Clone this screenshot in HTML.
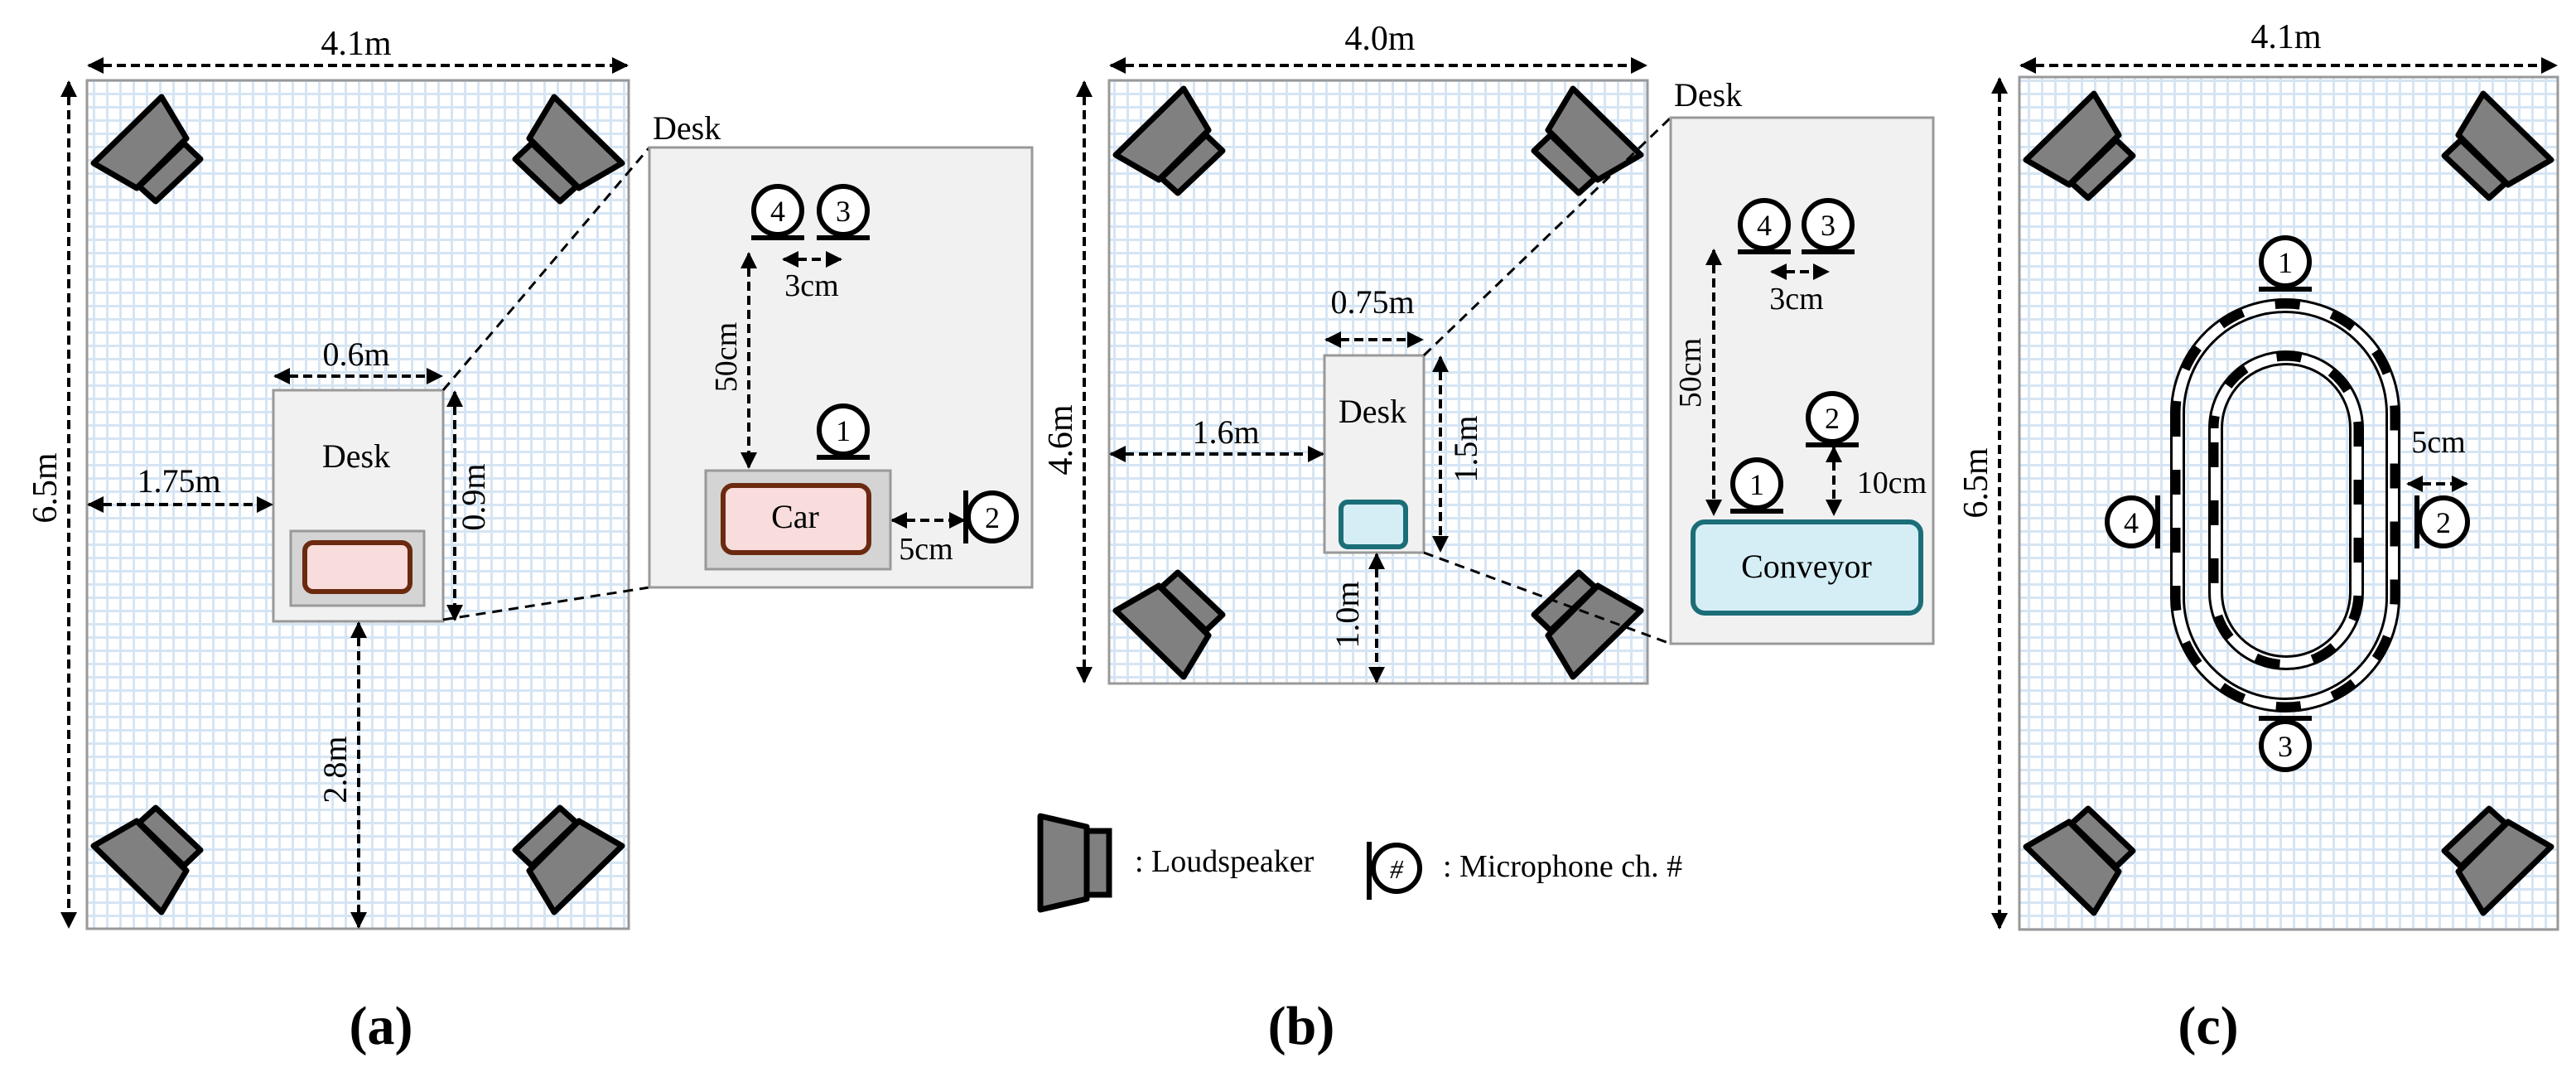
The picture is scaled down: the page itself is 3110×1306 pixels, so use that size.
<!DOCTYPE html>
<html><head><meta charset="utf-8"><style>html,body{margin:0;padding:0;background:#fff}svg{display:block}text{font-family:"Liberation Serif",serif;fill:#000}</style></head>
<body>
<svg width="3110" height="1306" viewBox="0 0 3110 1306" xmlns="http://www.w3.org/2000/svg">
<defs>
<pattern id="g" width="16" height="16" patternUnits="userSpaceOnUse">
<rect width="16" height="16" fill="#fff"/>
<rect x="0" y="0" width="3" height="16" fill="#d6e5f3"/>
<rect x="0" y="0" width="16" height="3" fill="#d6e5f3"/>
</pattern>
<marker id="ah" viewBox="0 0 10 10" refX="9" refY="5" markerWidth="5" markerHeight="5" orient="auto-start-reverse" markerUnits="strokeWidth"><path d="M0,0 L10,5 L0,10 z" fill="#000"/></marker>
<g id="spk">
<polygon points="113,197 195,117 225,167 165,227" fill="#808080" stroke="#000" stroke-width="7" stroke-linejoin="round"/>
<polygon points="222,173 242,192 188,243 168,225" fill="#808080" stroke="#000" stroke-width="7" stroke-linejoin="round"/>
</g>
<g id="mic">
<circle cx="0" cy="0" r="29" fill="#fff" stroke="#000" stroke-width="6"/>
<line x1="-32" y1="33" x2="32" y2="33" stroke="#000" stroke-width="6"/>
</g>
</defs>

<g stroke="#000" stroke-width="4" stroke-dasharray="11 6" fill="none" marker-start="url(#ah)" marker-end="url(#ah)">
<line x1="107" y1="79" x2="757" y2="79"/>
<line x1="83" y1="99" x2="83" y2="1119"/>
<line x1="1341" y1="79" x2="1987" y2="79"/>
<line x1="1309" y1="99" x2="1309" y2="823"/>
<line x1="2440" y1="79" x2="3086" y2="79"/>
<line x1="2414" y1="95" x2="2414" y2="1120"/>
</g>

<!-- Panel a room -->
<rect x="105" y="97" width="654" height="1024" fill="url(#g)" stroke="#999" stroke-width="3"/>
<use href="#spk"/>
<use href="#spk" transform="translate(864,0) scale(-1,1)"/>
<use href="#spk" transform="translate(0,1218) scale(1,-1)"/>
<use href="#spk" transform="translate(864,1218) scale(-1,-1)"/>
<rect x="330" y="471" width="205" height="279" fill="#f1f1f1" stroke="#999" stroke-width="3"/>
<rect x="351" y="641" width="161" height="90" fill="#d4d4d4" stroke="#999" stroke-width="3"/>
<rect x="368" y="655" width="127" height="59" rx="10" fill="#f9dcdc" stroke="#6b2a10" stroke-width="6"/>
<text x="430" y="564" font-size="40" text-anchor="middle">Desk</text>
<line x1="535" y1="471" x2="784" y2="178" stroke="#000" stroke-width="3" stroke-dasharray="12 8"/>
<line x1="535" y1="748" x2="784" y2="709" stroke="#000" stroke-width="3" stroke-dasharray="12 8"/>
<g stroke="#000" stroke-width="4" stroke-dasharray="11 6" fill="none" marker-start="url(#ah)" marker-end="url(#ah)">
<line x1="332" y1="454" x2="533" y2="454"/>
<line x1="549" y1="473" x2="549" y2="748"/>
<line x1="107" y1="609" x2="328" y2="609"/>
<line x1="433" y1="752" x2="433" y2="1119"/>
</g>
<text x="430" y="66" font-size="42" text-anchor="middle">4.1m</text>
<text transform="translate(68,589) rotate(-90)" font-size="42" text-anchor="middle">6.5m</text>
<text x="430" y="441" font-size="40" text-anchor="middle">0.6m</text>
<text transform="translate(585,600) rotate(-90)" font-size="40" text-anchor="middle">0.9m</text>
<text x="216" y="594" font-size="40" text-anchor="middle">1.75m</text>
<text transform="translate(418,929) rotate(-90)" font-size="40" text-anchor="middle">2.8m</text>

<!-- detail a -->
<rect x="784" y="178" width="462" height="531" fill="#f1f1f1" stroke="#999" stroke-width="3"/>
<text x="788" y="168" font-size="40">Desk</text>
<g stroke="#000" stroke-width="4" stroke-dasharray="11 6" fill="none" marker-start="url(#ah)" marker-end="url(#ah)">
<line x1="904" y1="306" x2="904" y2="564"/>
<line x1="946" y1="313" x2="1015" y2="313"/>
<line x1="1077" y1="628" x2="1164" y2="628"/>
</g>
<use href="#mic" x="939" y="254"/><text x="939" y="267" font-size="36" text-anchor="middle">4</text>
<use href="#mic" x="1018" y="254"/><text x="1018" y="267" font-size="36" text-anchor="middle">3</text>
<use href="#mic" x="1018" y="519"/><text x="1018" y="532" font-size="36" text-anchor="middle">1</text>
<text x="980" y="357" font-size="38" text-anchor="middle">3cm</text>
<text transform="translate(889,431) rotate(-90)" font-size="38" text-anchor="middle">50cm</text>
<rect x="852" y="568" width="223" height="119" fill="#d4d4d4" stroke="#999" stroke-width="3"/>
<rect x="873" y="586" width="176" height="81" rx="12" fill="#f9dcdc" stroke="#6b2a10" stroke-width="6"/>
<text x="960" y="637" font-size="40" text-anchor="middle">Car</text>
<g transform="translate(1198,624)">
<circle r="29" fill="#fff" stroke="#000" stroke-width="6"/>
<line x1="-32" y1="-32" x2="-32" y2="32" stroke="#000" stroke-width="6"/>
</g>
<text x="1198" y="637" font-size="36" text-anchor="middle">2</text>
<text x="1118" y="675" font-size="38" text-anchor="middle">5cm</text>
<text x="460" y="1260" font-size="66" font-weight="bold" text-anchor="middle">(a)</text>

<!-- Panel b -->
<rect x="1339" y="97" width="650" height="728" fill="url(#g)" stroke="#999" stroke-width="3"/>
<use href="#spk" transform="translate(1234,-10)"/>
<use href="#spk" transform="translate(2094,-10) scale(-1,1)"/>
<use href="#spk" transform="translate(1234,934) scale(1,-1)"/>
<use href="#spk" transform="translate(2094,934) scale(-1,-1)"/>
<rect x="1599" y="429" width="120" height="238" fill="#f1f1f1" stroke="#999" stroke-width="3"/>
<rect x="1619" y="606" width="78" height="54" rx="8" fill="#d5eef6" stroke="#1b6e78" stroke-width="6"/>
<text x="1657" y="510" font-size="40" text-anchor="middle">Desk</text>
<line x1="1719" y1="429" x2="2017" y2="142" stroke="#000" stroke-width="3" stroke-dasharray="12 8"/>
<line x1="1719" y1="667" x2="2017" y2="777" stroke="#000" stroke-width="3" stroke-dasharray="12 8"/>
<g stroke="#000" stroke-width="4" stroke-dasharray="11 6" fill="none" marker-start="url(#ah)" marker-end="url(#ah)">
<line x1="1601" y1="410" x2="1717" y2="410"/>
<line x1="1739" y1="431" x2="1739" y2="665"/>
<line x1="1341" y1="548" x2="1597" y2="548"/>
<line x1="1662" y1="669" x2="1662" y2="823"/>
</g>
<text x="1666" y="60" font-size="42" text-anchor="middle">4.0m</text>
<text transform="translate(1294,531) rotate(-90)" font-size="42" text-anchor="middle">4.6m</text>
<text x="1657" y="378" font-size="40" text-anchor="middle">0.75m</text>
<text transform="translate(1783,542) rotate(-90)" font-size="40" text-anchor="middle">1.5m</text>
<text x="1480" y="535" font-size="40" text-anchor="middle">1.6m</text>
<text transform="translate(1640,742) rotate(-90)" font-size="40" text-anchor="middle">1.0m</text>

<rect x="2017" y="142" width="317" height="635" fill="#f1f1f1" stroke="#999" stroke-width="3"/>
<text x="2021" y="128" font-size="40">Desk</text>
<g stroke="#000" stroke-width="4" stroke-dasharray="11 6" fill="none" marker-start="url(#ah)" marker-end="url(#ah)">
<line x1="2069" y1="302" x2="2069" y2="621"/>
<line x1="2139" y1="328" x2="2207" y2="328"/>
<line x1="2214" y1="540" x2="2214" y2="621"/>
</g>
<use href="#mic" x="2130" y="271"/><text x="2130" y="284" font-size="36" text-anchor="middle">4</text>
<use href="#mic" x="2207" y="271"/><text x="2207" y="284" font-size="36" text-anchor="middle">3</text>
<use href="#mic" x="2212" y="504"/><text x="2212" y="517" font-size="36" text-anchor="middle">2</text>
<use href="#mic" x="2121" y="584"/><text x="2121" y="597" font-size="36" text-anchor="middle">1</text>
<text x="2169" y="373" font-size="38" text-anchor="middle">3cm</text>
<text transform="translate(2053,450) rotate(-90)" font-size="38" text-anchor="middle">50cm</text>
<text x="2284" y="595" font-size="38" text-anchor="middle">10cm</text>
<rect x="2044" y="630" width="275" height="110" rx="14" fill="#d5eef6" stroke="#1b6e78" stroke-width="6"/>
<text x="2181" y="697" font-size="40" text-anchor="middle">Conveyor</text>

<!-- legend -->
<polygon points="1256,985 1312,998 1312,1085 1256,1098" fill="#808080" stroke="#000" stroke-width="7" stroke-linejoin="round"/>
<rect x="1312" y="1003" width="27" height="77" fill="#808080" stroke="#000" stroke-width="7"/>
<text x="1370" y="1052" font-size="38">: Loudspeaker</text>
<circle cx="1686" cy="1048" r="28" fill="#fff" stroke="#000" stroke-width="6"/>
<line x1="1653" y1="1016" x2="1653" y2="1086" stroke="#000" stroke-width="6"/>
<text x="1686" y="1060" font-size="32" font-style="italic" text-anchor="middle">#</text>
<text x="1742" y="1058" font-size="38">: Microphone ch. #</text>
<text x="1571" y="1260" font-size="66" font-weight="bold" text-anchor="middle">(b)</text>

<!-- Panel c -->
<rect x="2438" y="93" width="650" height="1029" fill="url(#g)" stroke="#999" stroke-width="3"/>
<use href="#spk" transform="translate(2333,-4)"/>
<use href="#spk" transform="translate(3193,-4) scale(-1,1)"/>
<use href="#spk" transform="translate(2333,1219) scale(1,-1)"/>
<use href="#spk" transform="translate(3193,1219) scale(-1,-1)"/>
<g fill="none">
<path d="M2629,499 A130,130 0 0 1 2889,499 L2889,721 A130,130 0 0 1 2629,721 Z" stroke="#000" stroke-width="18"/>
<path d="M2629,499 A130,130 0 0 1 2889,499 L2889,721 A130,130 0 0 1 2629,721 Z" stroke="#fff" stroke-width="12"/>
<path d="M2627,499 A132,132 0 0 1 2891,499 L2891,721 A132,132 0 0 1 2627,721 Z" stroke="#000" stroke-width="11" stroke-dasharray="30 40" stroke-dashoffset="15"/>
<path d="M2675,517 A85,85 0 0 1 2845,517 L2845,715 A85,85 0 0 1 2675,715 Z" stroke="#000" stroke-width="18"/>
<path d="M2675,517 A85,85 0 0 1 2845,517 L2845,715 A85,85 0 0 1 2675,715 Z" stroke="#fff" stroke-width="12"/>
<path d="M2673,517 A87,87 0 0 1 2847,517 L2847,715 A87,87 0 0 1 2673,715 Z" stroke="#000" stroke-width="11" stroke-dasharray="30 40" stroke-dashoffset="15"/>
</g>
<use href="#mic" x="2759" y="316"/><text x="2759" y="329" font-size="36" text-anchor="middle">1</text>
<g transform="translate(2759,900) scale(1,-1)"><use href="#mic"/></g><text x="2759" y="913" font-size="36" text-anchor="middle">3</text>
<g transform="translate(2573,630)"><circle r="29" fill="#fff" stroke="#000" stroke-width="6"/><line x1="32" y1="-32" x2="32" y2="32" stroke="#000" stroke-width="6"/></g>
<text x="2573" y="643" font-size="36" text-anchor="middle">4</text>
<g transform="translate(2950,630)"><circle r="29" fill="#fff" stroke="#000" stroke-width="6"/><line x1="-32" y1="-32" x2="-32" y2="32" stroke="#000" stroke-width="6"/></g>
<text x="2950" y="643" font-size="36" text-anchor="middle">2</text>
<g stroke="#000" stroke-width="4" stroke-dasharray="11 6" fill="none" marker-start="url(#ah)" marker-end="url(#ah)">
<line x1="2907" y1="584" x2="2978" y2="584"/>
</g>
<text x="2944" y="546" font-size="38" text-anchor="middle">5cm</text>
<text x="2760" y="58" font-size="42" text-anchor="middle">4.1m</text>
<text transform="translate(2399,583) rotate(-90)" font-size="42" text-anchor="middle">6.5m</text>
<text x="2666" y="1260" font-size="66" font-weight="bold" text-anchor="middle">(c)</text>
</svg>
</body></html>
